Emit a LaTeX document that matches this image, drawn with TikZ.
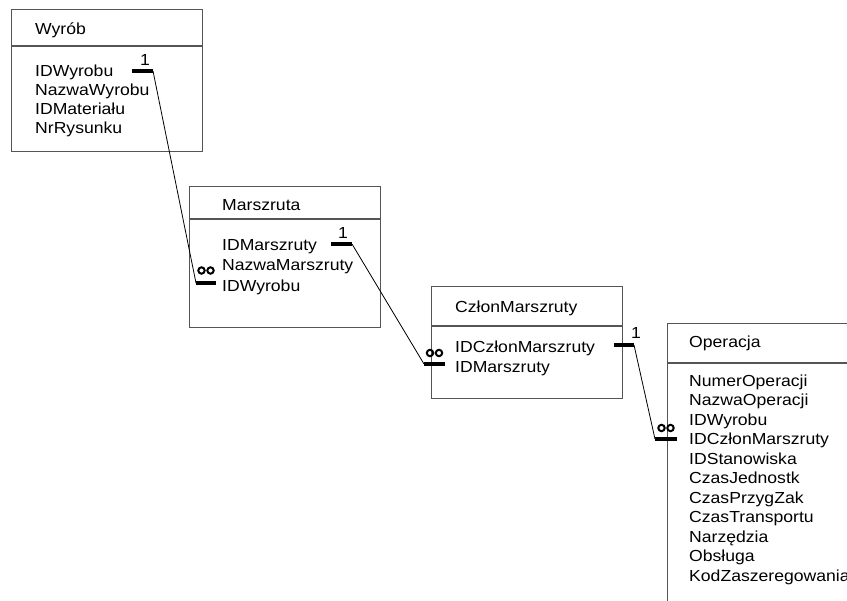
\documentclass[tikz,border=0pt]{standalone}
\usepackage{fontspec}
\setmainfont{Liberation Sans}[FakeStretch=1.1]
\begin{document}
\begin{tikzpicture}[x=1pt,y=-1pt,
  tbl/.style={draw=boxgray, line width=1.1pt, inner sep=0pt, anchor=north west, minimum width=191pt},
  sepline/.style={draw=boxgray, line width=1.1pt},
  fld/.style={anchor=base west, inner sep=0pt, font=\fontsize{16}{19}\selectfont},
  onebar/.style={line width=4pt},
  manyring/.style={line width=2pt},
  conn/.style={line width=0.8pt},
  card/.style={anchor=base, inner sep=0pt, font=\fontsize{16}{19}\selectfont}]
\definecolor{boxgray}{RGB}{85,85,85}
\useasboundingbox (0,0) rectangle (847,601);
\clip (0,0) rectangle (847,601);

% ---------- tables ----------
\node[tbl, minimum height=142pt] (wyrob) at (11,9) {};
\draw[sepline] (11,46) -- (202,46);
\node[fld] (wyrobT) at (35,34.5) {Wyrób};
\node[fld] (w1) at (35,76.5) {IDWyrobu};
\node[fld] (w2) at (35,95.5) {NazwaWyrobu};
\node[fld] (w3) at (35,114.5) {IDMateriału};
\node[fld] (w4) at (35,133.5) {NrRysunku};

\node[tbl, minimum height=141pt] (marsz) at (189,186) {};
\draw[sepline] (189,219) -- (380,219);
\node[fld] (marszT) at (222,210.5) {Marszruta};
\node[fld] (m1) at (222,250.5) {IDMarszruty};
\node[fld] (m2) at (222,271) {NazwaMarszruty};
\node[fld] (m3) at (222,291.5) {IDWyrobu};

\node[tbl, minimum height=112pt] (czlon) at (431,286) {};
\draw[sepline] (431,326) -- (622,326);
\node[fld] (czlonT) at (455,312.5) {CzłonMarszruty};
\node[fld] (c1) at (455,352.5) {IDCzłonMarszruty};
\node[fld] (c2) at (455,372.5) {IDMarszruty};

\node[tbl, minimum height=300pt] (oper) at (667,323) {};
\draw[sepline] (667,363) -- (858,363);
\node[fld] (operT) at (689,347.5) {Operacja};
\foreach \t [count=\i from 0] in {NumerOperacji,NazwaOperacji,IDWyrobu,IDCzłonMarszruty,IDStanowiska,CzasJednostk,CzasPrzygZak,CzasTransportu,Narzędzia,Obsługa,KodZaszeregowania}
  \node[fld] (o\i) at (689,{386.5+19.5*\i}) {\t};

% ---------- relationship ends ----------
% Wyrób (1)
\coordinate (wOneL) at (132,71);
\coordinate (wOne) at (153,71);
\draw[onebar] (wOneL) -- (wOne);
\node[card] (wCard) at (145,66) {1};
% Marszruta (many, from Wyrób)
\coordinate (mManyR) at (216,283);
\coordinate (mMany) at (196,283);
\draw[onebar] (mMany) -- (mManyR);
\draw[manyring] (201.5,270.5) circle (3.2) (210.5,270.5) circle (3.2);
% Marszruta (1)
\coordinate (mOneL) at (331,244);
\coordinate (mOne) at (352,244);
\draw[onebar] (mOneL) -- (mOne);
\node[card] (mCard) at (343,239) {1};
% CzłonMarszruty (many, from Marszruta)
\coordinate (cManyR) at (445,364);
\coordinate (cMany) at (424,364);
\draw[onebar] (cMany) -- (cManyR);
\draw[manyring] (430,353) circle (3.2) (439,353) circle (3.2);
% CzłonMarszruty (1)
\coordinate (cOneL) at (614,345);
\coordinate (cOne) at (634,345);
\draw[onebar] (cOneL) -- (cOne);
\node[card] (cCard) at (636,339) {1};
% Operacja (many, from CzłonMarszruty)
\coordinate (oManyR) at (677,439);
\coordinate (oMany) at (655,439);
\draw[onebar] (oMany) -- (oManyR);
\draw[manyring] (661.5,428) circle (3.2) (670.5,428) circle (3.2);

% ---------- connectors ----------
\draw[conn] (wOne) -- (mMany);
\draw[conn] (mOne) -- (cMany);
\draw[conn] (cOne) -- (oMany);
\end{tikzpicture}
\end{document}
